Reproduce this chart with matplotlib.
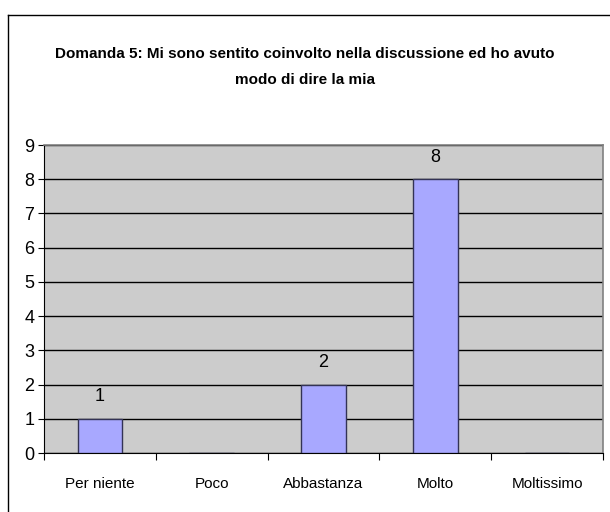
import matplotlib
matplotlib.use("Agg")
import matplotlib.pyplot as plt
import numpy as np
from matplotlib.lines import Line2D

categories = ["Per niente", "Poco", "Abbastanza", "Molto", "Moltissimo"]
counts = [1, 0, 2, 8, 0]
y_ticks = list(range(0, 10))
title = "Domanda 5: Mi sono sentito coinvolto nella discussione ed ho avuto\nmodo di dire la mia"

FONT = ["Liberation Sans", "DejaVu Sans"]
plt.rcParams["font.family"] = FONT

fig = plt.figure(figsize=(6.1, 5.12), dpi=100)
W, H = 610, 512
ax = fig.add_axes([44 / W, 1 - 453 / H, (603 - 44) / W, (453 - 145) / H])

ax.set_facecolor("#cccccc")
x = np.arange(len(categories))
ax.bar(x, counts, width=0.4, color="#a8a8ff", edgecolor="#333355", linewidth=1.0, zorder=3)
for xi, v in zip(x, counts):
    if v > 0:
        ax.text(xi, v + 0.4, str(v), ha="center", va="bottom", fontsize=13, zorder=4)

ax.set_xlim(-0.5, len(categories) - 0.5)
ax.set_ylim(0, 9)
ax.set_yticks(y_ticks)
ax.tick_params(axis="y", labelsize=13, length=4, width=0.8, direction="out", pad=3)
ax.yaxis.grid(True, color="black", linewidth=1.0, zorder=1)
ax.set_axisbelow(True)

ax.set_xticks(x)
ax.set_xticklabels(categories, fontsize=11)
ax.tick_params(axis="x", length=0, pad=17)
ax.set_xticks(np.arange(-0.5, len(categories)), minor=True)
ax.tick_params(axis="x", which="minor", length=5, width=0.8, direction="out")

for side in ["top", "right"]:
    ax.spines[side].set_color("#808080")
    ax.spines[side].set_linewidth(1.2)
ax.spines["left"].set_color("black")
ax.spines["bottom"].set_color("black")

fig.text(0.5, 1 - 67 / H, title, ha="center", va="center", fontsize=11,
         fontweight="bold", linespacing=2.0)

# outer chart border (only left and top visible in the crop)
fig.add_artist(Line2D([8 / W, 8 / W], [0, 1 - 15 / H], transform=fig.transFigure,
                      color="black", linewidth=1.0))
fig.add_artist(Line2D([8 / W, 1], [1 - 15 / H, 1 - 15 / H], transform=fig.transFigure,
                      color="black", linewidth=1.0))

fig.savefig("out.png", dpi=100)
